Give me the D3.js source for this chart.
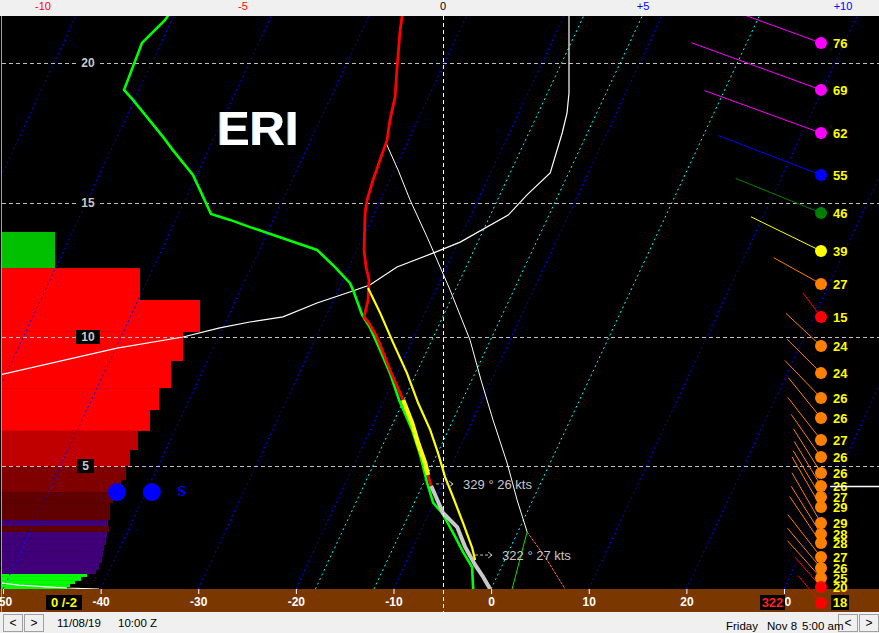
<!DOCTYPE html>
<html><head><meta charset="utf-8">
<script src="https://cdn.jsdelivr.net/npm/d3@7"></script>
<style>
html,body{margin:0;padding:0;background:#f0f0f0;overflow:hidden}
svg{display:block;font-family:"Liberation Sans",Arial,sans-serif}
</style></head><body>
<svg id="c" width="879" height="633"></svg>
<script>
// ---------------- DATA ----------------
const stationName = "ERI";
const heightTicks = [5, 10, 15, 20];                       // kft
const tempTicks = [-50, -40, -30, -20, -10, 0, 10, 20, 30];  // °C
const topTicks = [-10, -5, 0, 5, 10];
const topTickLabels = ["-10", "-5", "0", "+5", "+10"];
const isotherms = [-80, -70, -60, -50, -40, -30, -20, -10, 10, 20, 30, 40];
const dgzIsotherms = [-18, -12, 0];

// temperature profile (red)
const tempH = [21.67,21.06,19.86,18.79,17.96,17.25,16.54,15.82,15.11,14.63,13.25,12.61,12.13,11.38,10.75,10.52,10.07,9.50,8.72,7.56,6.67,5.89,5.12,4.63,4.19];
const tempT = [-36.6,-36.0,-34.66,-33.43,-32.84,-32.18,-31.95,-31.70,-31.36,-30.94,-29.27,-28.25,-27.32,-26.46,-26.06,-25.26,-23.96,-22.63,-20.85,-18.08,-16.06,-14.48,-12.81,-11.93,-11.09];
// lowest layer temperature (grey)
const lowH = [4.19,3.74,3.09,2.52,1.71,0.98,0.49,0];
const lowT = [-11.09,-10.05,-8.57,-6.45,-4.68,-2.79,-1.39,-0.10];
// highlighted layer (thick yellow)
const hiH = [7.56,6.67,5.89,5.12,4.63];
const hiT = [-18.08,-16.06,-14.48,-12.81,-11.93];
// dewpoint (green)
const dewH = [21.67,21.52,20.71,19.04,18.68,17.36,16.89,16.0,15.46,14.59,14.37,14.10,13.25,12.61,12.01,11.75,10.82,10.34,9.50,8.60,7.56,6.40,5.43,4.31,3.50,3.09,2.28,1.50,0.89,0];
const dewT = [-60.57,-60.69,-61.94,-61.53,-60.13,-55.28,-53.64,-50.39,-48.94,-46.67,-44.44,-42.05,-34.09,-31.42,-29.12,-28.47,-26.35,-24.91,-22.84,-20.71,-18.49,-15.72,-13.70,-11.64,-10.06,-8.67,-6.58,-4.64,-3.0,-1.84];
// wet-bulb style line (thin yellow)
const parcelH = [11.83,10.90,9.77,8.60,7.44,6.40,5.50,4.55,3.74,2.68,1.67,1.18];
const parcelT = [-27.04,-24.61,-21.83,-18.97,-16.39,-13.87,-11.95,-10.08,-8.31,-6.03,-3.91,-3.03];
// surface parcel path (thin white) and surface branches
const adiabatH = [17.14,16.18,15.11,13.73,11.75,9.88,8.33,6.78,5.12,3.62,2.32];
const adiabatT = [-32.14,-29.62,-26.96,-23.43,-18.53,-14.09,-11.05,-7.90,-4.41,-1.61,0.95];
const sfcTH = [2.32,1.18,0];
const sfcTT = [0.95,4.34,7.58];
const sfcDH = [2.32,0];
const sfcDT = [0.95,2.15];
// profile on top axis (thin white)
const profV = [3.15,3.15,3.10,2.98,2.68,2.1,1.63,0.43,-0.25,-1.15,-1.83,-2.33,-3.15,-4.0,-4.83,-5.58,-6.5,-8.15,-11.08,-14,-14,-11.05,-10.6,-10.0,-9.4,-8.6];
const profH = [21.67,18.93,18.21,17.5,16.07,15.29,14.55,13.54,13.13,12.61,11.94,11.68,11.27,10.75,10.56,10.34,10.0,9.57,8.53,7.0,0.5,0.24,0.16,0.10,0.04,0];
const markerH = 4.19;
const markerV = [9.68, 11.2];

// left-side layer bars
const barBottom = [12.57,11.38,10.19,9.07,8.02,7.17,6.36,5.62,5.0,4.43,3.94,3.50,2.80,2.56,2.32,2.07,1.79,1.54,1.30,1.06,0.77,0.61,0.49,0.33,0.20,0.08,0];
const barTop    = [13.92,12.57,11.38,10.19,9.07,8.02,7.17,6.36,5.62,5.0,4.43,3.94,3.50,2.80,2.56,2.32,2.07,1.79,1.54,1.30,1.06,0.77,0.61,0.49,0.33,0.20,0.08];
const barValue  = [26.5,69,99,90.5,84.5,78.5,74,68,64,62,59.5,55.5,54,53,53.5,52.5,52,51,50.5,50,48.5,47,42.5,39.5,36.5,34,32.5];
const barClass  = [0,1,1,1,1,1,1,2,2,3,3,4,4,5,4,5,5,5,5,5,5,5,6,6,6,6,6];

// winds
const windH = [20.71,19.04,17.5,16.0,14.63,13.21,11.98,10.75,9.65,8.60,7.64,6.86,6.01,5.35,4.72,4.19,3.74,3.33,2.68,2.24,1.87,1.30,0.85,0.45,0.08];
const windSpd = [76,69,62,55,46,39,27,15,24,24,26,26,27,26,26,26,27,29,29,28,28,27,26,25,20];
const windDir = [290,290,290,291,292,296,299,323,313,315,316,321,322,325,328,329,329,330,330,328,326,322,320,318,319];
const sfcWindSpd = 18, sfcWindDir = 320;

// annotations
const annotH = [4.27, 1.38];
const annotT = [-10.67, -3.27];
const annotDir = [329, 322];
const annotSpd = [26, 27];

// cloud markers
const cloudV = [-8.15, -7.28];
const cloudH = [3.94, 3.94];
const cloudLabelV = -6.53;

const boxLeft = "0 /-2";
const boxRight = "322";
const dateText = "11/08/19", timeText = "10:00 Z";
const dayText = "Friday", localDate = "Nov 8", localTime = "5:00 am";

// ---------------- SCALES ----------------
const plotL = 2, plotR = 879, plotT = 16, plotB = 589, barB = 612;
const xs = d3.scaleLinear().domain([-50, 30]).range([3, 784]);
const ys = d3.scaleLinear().domain([0, 5, 10, 15, 20, 21.7]).range([589, 466, 337, 203, 63, 15]);
const xt = d3.scaleLinear().domain([-10, 10]).range([43, 843]);
const skew = 0.468;
const sx = (T, h) => xs(T) + skew * (plotB - ys(h));
const barX = d3.scaleLinear().domain([0, 100]).range([2, 202]);
const barColor = d3.scaleOrdinal().domain([0,1,2,3,4,5,6])
  .range(["#00c000","#ff0000","#c00000","#800000","#600000","#400078","#00ff00"]);
const windLen = d3.scaleLinear().domain([0, 100]).range([0, 200]);
const windColor = d3.scaleThreshold().domain([21, 36, 46, 51, 60])
  .range(["#ff0000","#ff8000","#ffff00","#008000","#0000ff","#ff00ff"]);

const svg = d3.select("#c");
svg.append("rect").attr("width", 879).attr("height", 633).attr("fill", "#f0f0f0");
svg.append("rect").attr("x", 0).attr("y", plotT).attr("width", 879).attr("height", plotB - plotT).attr("fill", "#000");
svg.append("rect").attr("x", 0).attr("y", plotB).attr("width", 879).attr("height", barB - plotB).attr("fill", "#7b3700");

svg.append("defs").append("clipPath").attr("id", "clip")
  .append("rect").attr("x", plotL).attr("y", plotT).attr("width", plotR - plotL).attr("height", plotB - plotT);

const g = svg.append("g").attr("clip-path", "url(#clip)");

// bars
g.selectAll("rect.bar").data(barValue).join("rect").attr("class", "bar")
  .attr("x", barX(0)).attr("width", d => barX(d) - barX(0))
  .attr("y", (d, i) => ys(barTop[i])).attr("height", (d, i) => ys(barBottom[i]) - ys(barTop[i]))
  .attr("fill", (d, i) => barColor(barClass[i]));

// isotherms
g.selectAll("line.iso").data(isotherms).join("line")
  .attr("x1", d => sx(d, 0)).attr("y1", plotB).attr("x2", d => sx(d, 0) + skew * (plotB - plotT)).attr("y2", plotT)
  .attr("stroke", "#0000ff").attr("stroke-width", 1).attr("stroke-dasharray", "2,3");
g.selectAll("line.dgz").data(dgzIsotherms).join("line")
  .attr("x1", d => sx(d, 0)).attr("y1", plotB).attr("x2", d => sx(d, 0) + skew * (plotB - plotT)).attr("y2", plotT)
  .attr("stroke", "#00ffff").attr("stroke-width", 1).attr("stroke-dasharray", "2,3");

// horizontal height lines
g.selectAll("line.hl").data(heightTicks).join("line")
  .attr("x1", plotL).attr("x2", plotR).attr("y1", d => Math.round(ys(d)) + 0.5).attr("y2", d => Math.round(ys(d)) + 0.5)
  .attr("stroke", "#c0c0c0").attr("stroke-dasharray", "4,3");

// wind lines
const wg = svg.append("g");
const wLines = wg.append("g").attr("clip-path", "url(#clip)");
const wx = 821;
windSpd.forEach((s, i) => {
  const y = ys(windH[i]), a = windDir[i] * Math.PI / 180, L = windLen(s);
  wLines.append("line").attr("x1", wx).attr("y1", y).attr("x2", wx + L * Math.sin(a)).attr("y2", y - L * Math.cos(a))
    .attr("stroke", windColor(s)).attr("stroke-width", 1);
});

// line generators
const skLine = d3.line().x(d => sx(d[0], d[1])).y(d => ys(d[1]));
const zip = (T, H) => T.map((t, i) => [t, H[i]]);
const topLine = d3.line().x(d => xt(d[0])).y(d => ys(d[1]));

g.append("path").attr("d", topLine(zip(profV, profH))).attr("fill", "none").attr("stroke", "#fff").attr("stroke-width", 1.2);
g.append("path").attr("d", skLine(zip(adiabatT, adiabatH))).attr("fill", "none").attr("stroke", "#fff").attr("stroke-width", 1);
g.append("path").attr("d", skLine(zip(sfcTT, sfcTH))).attr("fill", "none").attr("stroke", "#ff7070").attr("stroke-width", 1).attr("stroke-dasharray", "3,1");
g.append("path").attr("d", skLine(zip(sfcDT, sfcDH))).attr("fill", "none").attr("stroke", "#00e000").attr("stroke-width", 1);
g.append("path").attr("d", skLine(zip(dewT, dewH))).attr("fill", "none").attr("stroke", "#00ff00").attr("stroke-width", 2.6);
g.append("path").attr("d", skLine(zip(lowT, lowH))).attr("fill", "none").attr("stroke", "#c8c8c8").attr("stroke-width", 4);
g.append("path").attr("d", skLine(zip(tempT, tempH))).attr("fill", "none").attr("stroke", "#ff0000").attr("stroke-width", 2.8);
g.append("path").attr("d", skLine(zip(parcelT, parcelH))).attr("fill", "none").attr("stroke", "#ffff00").attr("stroke-width", 2.2);
g.append("path").attr("d", skLine(zip(hiT, hiH))).attr("fill", "none").attr("stroke", "#ffff00").attr("stroke-width", 4.5);

// right marker
svg.append("line").attr("x1", xt(markerV[0])).attr("x2", xt(markerV[1])).attr("y1", Math.round(ys(markerH)) + 0.5).attr("y2", Math.round(ys(markerH)) + 0.5)
  .attr("stroke", "#fff").attr("stroke-width", 1.5);

// wind dots and labels
windSpd.forEach((s, i) => {
  const y = ys(windH[i]);
  wg.append("circle").attr("cx", wx).attr("cy", y).attr("r", 6).attr("fill", windColor(s));
});
windSpd.forEach((s, i) => {
  wg.append("text").attr("x", 833).attr("y", ys(windH[i])).attr("dy", "0.36em")
    .attr("fill", "#ffff00").attr("font-size", 13).attr("font-weight", "bold").text(s);
});

// vertical dashed zero line
svg.append("line").attr("x1", xt(0) + 0.5).attr("x2", xt(0) + 0.5).attr("y1", plotT).attr("y2", barB)
  .attr("stroke", "#fff").attr("stroke-dasharray", "4,3");

// height labels
heightTicks.forEach(h => {
  const y = ys(h);
  svg.append("rect").attr("x", h < 10 ? 77 : 76).attr("y", y - 7).attr("width", h < 10 ? 17 : 24).attr("height", 14).attr("fill", "#000");
  svg.append("text").attr("x", h < 10 ? 85.5 : 88).attr("y", y).attr("dy", "0.36em").attr("text-anchor", "middle")
    .attr("fill", "#c8c8c8").attr("font-size", 12).attr("font-weight", "bold").text(h);
});

// left border
svg.append("line").attr("x1", 1.5).attr("x2", 1.5).attr("y1", plotT).attr("y2", barB).attr("stroke", "#a0a0a0");

// station name
svg.append("text").attr("x", 257).attr("y", 145).attr("text-anchor", "middle").attr("font-size", 49).attr("font-weight", "bold")
  .attr("fill", "#8cc8ff").text(stationName);
svg.append("text").attr("x", 258).attr("y", 145).attr("text-anchor", "middle").attr("font-size", 49).attr("font-weight", "bold")
  .attr("fill", "#fff").text(stationName);

// annotations
annotH.forEach((h, i) => {
  const x0 = sx(annotT[i], h), y = ys(h);
  svg.append("line").attr("x1", x0).attr("x2", x0 + 16).attr("y1", y).attr("y2", y).attr("stroke", "#c0c0c0").attr("stroke-dasharray", "3,2");
  svg.append("path").attr("d", `M${x0 + 13},${y - 3}L${x0 + 17},${y}L${x0 + 13},${y + 3}`).attr("fill", "none").attr("stroke", "#c0c0c0");
  svg.append("text").attr("x", x0 + 27).attr("y", y).attr("dy", "0.36em").attr("fill", "#c8c8c8").attr("font-size", 13)
    .text(`${annotDir[i]} ° ${annotSpd[i]} kts`);
});

// cloud markers
cloudV.forEach((v, i) => {
  svg.append("circle").attr("cx", xt(v)).attr("cy", ys(cloudH[i])).attr("r", 9).attr("fill", "#0000ff");
});
svg.append("text").attr("x", xt(cloudLabelV)).attr("y", ys(cloudH[0])).attr("dy", "0.3em").attr("text-anchor", "middle")
  .attr("fill", "#0000ff").attr("font-size", 12).attr("font-weight", "bold").attr("font-family", "DejaVu Serif").text("S");

// top axis labels
topTicks.forEach((t, i) => {
  svg.append("text").attr("x", xt(t)).attr("y", 10).attr("text-anchor", "middle").attr("font-size", 11)
    .attr("fill", t < 0 ? "#ff0000" : (t > 0 ? "#0000ff" : "#000")).text(topTickLabels[i]);
});

// bottom axis
const ax = svg.append("g").attr("transform", `translate(0,${plotB})`)
  .call(d3.axisBottom(xs).tickValues(tempTicks).tickSize(5).tickPadding(3).tickFormat(d => String(d)));
ax.select(".domain").remove();
ax.selectAll("line").attr("stroke", "#fff");
ax.selectAll("text").attr("fill", "#fff").attr("font-size", 12).attr("font-weight", "bold").attr("font-family", "Liberation Sans, Arial, sans-serif");

// boxes in bottom bar
function box(x, w, txt, col) {
  svg.append("rect").attr("x", x).attr("y", 595).attr("width", w).attr("height", 15).attr("fill", "#000");
  svg.append("text").attr("x", x + w / 2).attr("y", 602.5).attr("dy", "0.36em").attr("text-anchor", "middle")
    .attr("fill", col).attr("font-size", 13).attr("font-weight", "bold").text(txt);
}
box(46, 36, boxLeft, "#ffff00");
box(760, 25, boxRight, "#ff2020");

// surface wind
{
  const y = 603, a = sfcWindDir * Math.PI / 180, L = windLen(sfcWindSpd);
  svg.append("line").attr("x1", wx).attr("y1", y).attr("x2", wx + L * Math.sin(a)).attr("y2", y - L * Math.cos(a)).attr("stroke", windColor(sfcWindSpd));
  svg.append("circle").attr("cx", wx).attr("cy", y).attr("r", 6).attr("fill", windColor(sfcWindSpd));
  box(831, 18, sfcWindSpd, "#ffff00");
}

// status bar
svg.append("rect").attr("x", 0).attr("y", barB).attr("width", 879).attr("height", 633 - barB).attr("fill", "#f0f0f0");
function btn(x, ch) {
  svg.append("rect").attr("x", x + 0.5).attr("y", 614.5).attr("width", 19).attr("height", 17).attr("fill", "#f0f0f0").attr("stroke", "#a0a0a0");
  svg.append("text").attr("x", x + 10).attr("y", 623).attr("dy", "0.36em").attr("text-anchor", "middle").attr("font-size", 12).attr("fill", "#000").text(ch);
}
btn(3, "<"); btn(24, ">"); btn(838, "<"); btn(859, ">");
svg.append("text").attr("x", 57).attr("y", 627).attr("font-size", 11.5).attr("fill", "#000").text(dateText);
svg.append("text").attr("x", 118).attr("y", 627).attr("font-size", 11.5).attr("fill", "#000").text(timeText);
svg.append("text").attr("x", 726).attr("y", 630).attr("font-size", 11.5).attr("fill", "#000").text(dayText);
svg.append("text").attr("x", 767).attr("y", 630).attr("font-size", 11.5).attr("fill", "#000").text(localDate);
svg.append("text").attr("x", 802).attr("y", 630).attr("font-size", 11.5).attr("fill", "#000").text(localTime);
</script>
</body></html>
